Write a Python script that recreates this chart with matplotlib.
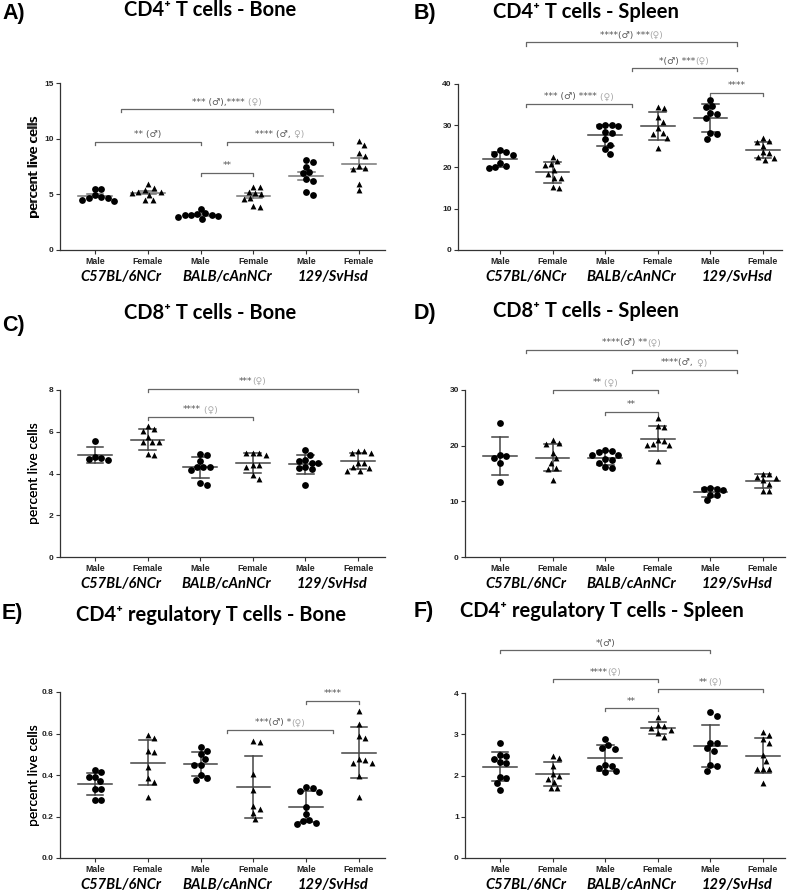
import numpy as np
import matplotlib.pyplot as plt
from matplotlib.transforms import offset_copy

W, H = 800, 891

sexes = ["Male", "Female", "Male", "Female", "Male", "Female"]
strains = ["C57BL/6NCr", "BALB/cAnNCr", "129/SvHsd"]

# values per group: M C57, F C57, M BALB, F BALB, M 129, F 129
cd4_bone = [
    [5.5, 5.5, 4.9, 4.8, 4.7, 4.7, 4.5, 4.4],
    [5.9, 5.55, 5.4, 5.2, 5.2, 5.15, 4.95, 4.5, 4.45],
    [3.7, 3.3, 3.2, 3.15, 3.1, 3.1, 3.05, 2.95, 2.75],
    [5.7, 5.65, 5.25, 5.1, 5.05, 4.65, 4.6, 3.95, 3.9],
    [8.1, 7.9, 7.5, 7.0, 6.9, 6.4, 6.2, 5.2, 4.9],
    [9.8, 9.4, 8.7, 8.4, 7.55, 7.35, 7.25, 5.95, 5.35],
]
cd4_spleen = [
    [24.1, 23.7, 23.2, 23.0, 21.0, 20.2, 19.9, 19.8],
    [22.5, 21.4, 20.7, 20.4, 19.3, 18.4, 17.4, 17.3, 15.1, 14.9],
    [30.1, 30.0, 29.9, 29.8, 28.4, 28.3, 26.7, 25.4, 24.3, 23.1],
    [34.4, 34.1, 32.1, 30.9, 29.3, 28.2, 28.0, 27.1, 24.5],
    [36.1, 34.6, 34.4, 33.0, 32.8, 31.7, 28.1, 27.9, 26.7],
    [26.9, 26.3, 26.1, 25.1, 23.5, 23.3, 22.4, 22.2, 21.8],
]
cd8_bone = [
    [5.57, 4.81, 4.76, 4.68, 4.65],
    [6.28, 6.12, 6.05, 5.77, 5.53, 5.53, 5.5, 4.95, 4.9],
    [4.94, 4.9, 4.62, 4.33, 4.33, 4.32, 4.17, 3.56, 3.45],
    [5.0, 4.98, 4.97, 4.89, 4.41, 4.4, 4.3, 3.93, 3.74],
    [5.13, 4.89, 4.65, 4.6, 4.52, 4.5, 4.3, 4.25, 4.2, 3.45],
    [5.1, 5.08, 5.0, 4.98, 4.52, 4.5, 4.3, 4.28, 4.12, 4.1],
]
cd8_spleen = [
    [24.0, 18.3, 18.1, 17.7, 16.9, 13.5],
    [21.0, 20.5, 20.3, 18.7, 17.7, 16.8, 16.0, 15.8, 13.8],
    [19.3, 19.1, 18.8, 18.4, 18.3, 17.6, 17.5, 16.9, 16.1, 16.0],
    [24.9, 23.5, 23.3, 21.1, 20.9, 20.3, 20.2, 20.1, 17.2],
    [12.4, 12.3, 12.2, 12.1, 11.2, 11.1, 10.2],
    [15.0, 14.9, 14.3, 14.2, 13.8, 13.2, 11.9, 11.8],
]
treg_bone = [
    [0.424, 0.413, 0.392, 0.392, 0.371, 0.333, 0.333, 0.28, 0.28],
    [0.593, 0.58, 0.516, 0.509, 0.44, 0.384, 0.365, 0.292],
    [0.537, 0.517, 0.501, 0.477, 0.448, 0.448, 0.4, 0.387, 0.376],
    [0.564, 0.557, 0.403, 0.328, 0.252, 0.236, 0.218, 0.188],
    [0.34, 0.335, 0.325, 0.32, 0.244, 0.212, 0.185, 0.18, 0.17, 0.165],
    [0.708, 0.644, 0.59, 0.58, 0.475, 0.47, 0.456, 0.456, 0.397, 0.296],
]
treg_spleen = [
    [2.78, 2.5, 2.47, 2.4, 2.33, 2.31, 1.96, 1.94, 1.81, 1.66],
    [2.48, 2.42, 2.23, 2.04, 2.0, 1.91, 1.85, 1.7, 1.7],
    [2.88, 2.74, 2.66, 2.65, 2.25, 2.24, 2.19, 2.11, 2.08],
    [3.41, 3.22, 3.2, 3.16, 3.1, 3.04, 2.94],
    [3.53, 3.44, 2.8, 2.78, 2.66, 2.59, 2.26, 2.24, 2.11],
    [3.06, 2.97, 2.88, 2.78, 2.5, 2.35, 2.16, 2.16, 2.15, 1.83],
]

yticks_a = [0, 5, 10, 15]
yticks_b = [0, 10, 20, 30, 40]
yticks_c = [0, 2, 4, 6, 8]
yticks_d = [0, 10, 20, 30]
yticks_e = [0.0, 0.2, 0.4, 0.6, 0.8]
yticks_f = [0, 1, 2, 3, 4]

DK = "#555555"
LT = "#a8a8a8"

# significance brackets: (from, to, height, [(text, colour), ...])
brackets_a = [
    (0.5, 4.5, 12.64, [("*** (\u2642),****", DK), (" (\u2640)", LT)]),
    (0, 2, 9.73, [("** (\u2642)", DK)]),
    (2.5, 4.5, 9.73, [("**** (\u2642,", DK), (" \u2640)", LT)]),
    (2, 3, 6.95, [("**", DK)]),
]
brackets_b = [
    (0.5, 4.5, 50.0, [("****(\u2642) ***", DK), ("(\u2640)", LT)]),
    (2.5, 4.5, 43.8, [("*(\u2642) ***", DK), ("(\u2640)", LT)]),
    (0.5, 2.5, 35.2, [("*** (\u2642) ****", DK), (" (\u2640)", LT)]),
    (4, 5, 37.9, [("****", DK)]),
]
brackets_c = [
    (1, 5, 8.07, [("***", DK), ("(\u2640)", LT)]),
    (1, 3, 6.71, [("****", DK), (" (\u2640)", LT)]),
]
brackets_d = [
    (0.5, 4.5, 37.2, [("****(\u2642) **", DK), ("(\u2640)", LT)]),
    (2.5, 4.5, 33.6, [("****(\u2642,", DK), (" \u2640)", LT)]),
    (1, 3, 30.0, [("**", DK), (" (\u2640)", LT)]),
    (2, 3, 26.1, [("**", DK)]),
]
brackets_e = [
    (4, 5, 0.757, [("****", DK)]),
    (2.5, 4.5, 0.617, [("***(\u2642) *", DK), ("(\u2640)", LT)]),
]
brackets_f = [
    (0, 4, 5.04, [("*(\u2642)", DK)]),
    (1, 3, 4.33, [("****", DK), ("(\u2640)", LT)]),
    (3, 5, 4.09, [("**", DK), ("(\u2640)", LT)]),
    (2, 3, 3.63, [("**", DK)]),
]

panels = [
    # letter, title, data, yticks, brackets, error, box (l, t, r, b), centres, title pos, letter pos
    ("A)", "CD4\u207a T cells - Bone", cd4_bone, yticks_a, brackets_a, "sem",
     (60, 83, 385, 250), (95, 359), (210, 10), (2, 13)),
    ("B)", "CD4\u207a T cells - Spleen", cd4_spleen, yticks_b, brackets_b, "sd",
     (458, 84, 782, 250), (500, 763), (586, 12), (414, 13)),
    ("C)", "CD8\u207a T cells - Bone", cd8_bone, yticks_c, brackets_c, "sd",
     (60, 390, 385, 557), (95, 358), (210, 313), (2, 325)),
    ("D)", "CD8\u207a T cells - Spleen", cd8_spleen, yticks_d, brackets_d, "sd",
     (465, 390, 785, 557), (500, 763), (586, 311), (414, 313)),
    ("E)", "CD4\u207a regulatory T cells - Bone", treg_bone, yticks_e, brackets_e, "sd",
     (60, 692, 385, 858), (95, 359), (211, 615), (2, 613)),
    ("F)", "CD4\u207a regulatory T cells - Spleen", treg_spleen, yticks_f, brackets_f, "sd",
     (465, 693, 785, 858), (500, 763), (602, 611), (414, 611)),
]


def swarm(vals, px_per_unit, d):
    # simple beeswarm in pixel space
    vals = np.asarray(vals, dtype=float)
    ys = vals * px_per_unit
    xs = np.zeros(len(vals))
    placed = []
    cands = [0.0]
    for k in range(1, 40):
        cands += [k * 0.25 * d, -k * 0.25 * d]
    for i in np.argsort(-vals):
        for c in cands:
            if all((c - px) ** 2 + (ys[i] - py) ** 2 >= d * d for px, py in placed):
                xs[i] = c
                placed.append((c, ys[i]))
                break
    return xs


fig = plt.figure(figsize=(W / 100, H / 100), dpi=100)
seg_groups = []
tick_font = ["Liberation Sans", "DejaVu Sans"]
head_font = ["Lato", "DejaVu Sans"]

for letter, title, data, yt, brackets, err, box, cen, tpos, lpos in panels:
    l, t, r, b = box
    ax = fig.add_axes([l / W, 1 - b / H, (r - l) / W, (b - t) / H])
    step = (cen[1] - cen[0]) / 5
    ax.set_xlim((l - cen[0]) / step, (r - cen[0]) / step)
    ax.set_ylim(yt[0], yt[-1])
    ypx = (b - t) / (yt[-1] - yt[0])
    for i, vals in enumerate(data):
        v = np.array(vals)
        xo = swarm(v, ypx, 6.4) / step
        marker = "o" if i % 2 == 0 else "^"
        ms = 24 if marker == "o" else 18
        ax.scatter(i + xo, v, s=ms, marker=marker, color="black", zorder=3, linewidths=0)
        m = v.mean()
        e = v.std(ddof=1)
        if err == "sem":
            e = e / np.sqrt(len(v))
        lc = "#777777" if err == "sem" else "#444444"
        ax.plot([i - 0.32, i + 0.32], [m, m], color=lc, lw=1.1, zorder=2)
        ax.plot([i, i], [m - e, m + e], color=lc, lw=1.1, zorder=2)
        ax.plot([i - 0.16, i + 0.16], [m + e, m + e], color=lc, lw=1.1, zorder=2)
        ax.plot([i - 0.16, i + 0.16], [m - e, m - e], color=lc, lw=1.1, zorder=2)

    drop = 3 / ypx
    for x1, x2, y, segs in brackets:
        ax.plot([x1, x1, x2, x2], [y - drop, y, y, y - drop], color="#666666",
                lw=0.9, clip_on=False)
        texts = []
        for s, c in segs:
            tx = ax.text((x1 + x2) / 2, y + 2.5 / ypx, s, color=c, fontsize=6.7,
                         ha="left", va="bottom", family="DejaVu Sans")
            texts.append(tx)
        seg_groups.append((ax, (x1 + x2) / 2, texts))

    for sp in ["top", "right"]:
        ax.spines[sp].set_visible(False)
    for sp in ["left", "bottom"]:
        ax.spines[sp].set_color("#333333")
        ax.spines[sp].set_linewidth(0.9)
    ax.set_yticks(yt)
    if yt[-1] < 1:
        ax.set_yticklabels(["%.1f" % v for v in yt])
    ax.set_xticks(range(6))
    ax.set_xticklabels(sexes)
    ax.tick_params(length=3, width=0.8, color="#333333", pad=1.5, labelsize=6)
    ax.tick_params(axis="x", pad=2, labelsize=6.3)
    for lab in ax.get_xticklabels() + ax.get_yticklabels():
        lab.set_family(tick_font)
        lab.set_fontweight("bold")
        lab.set_color("#222222")
    for k, s in enumerate(strains):
        ax.text(2 * k + 0.5, 0, s,
                transform=offset_copy(ax.get_xaxis_transform(), fig=fig, y=-27, units="dots"),
                ha="center", va="center", fontsize=10.5, fontweight="bold",
                fontstyle="italic", family=head_font)

    fig.text(34 / W, 1 - (t + b) / 2 / H, "percent live cells", rotation=90,
             ha="center", va="center", fontsize=10, family=head_font)
    fig.text(tpos[0] / W, 1 - tpos[1] / H, title, ha="center", va="center",
             fontsize=14.5, fontweight="bold", family=head_font)
    fig.text(lpos[0] / W, 1 - lpos[1] / H, letter, ha="left", va="center",
             fontsize=15.5, fontweight="bold", family=tick_font)

fig.canvas.draw()
renderer = fig.canvas.get_renderer()
for ax, xc, texts in seg_groups:
    widths = [tx.get_window_extent(renderer).width for tx in texts]
    start = -sum(widths) / 2
    for tx, w in zip(texts, widths):
        tx.set_transform(offset_copy(ax.transData, fig=fig, x=start, y=0, units="dots"))
        start += w

fig.savefig("out.png", dpi=100)
